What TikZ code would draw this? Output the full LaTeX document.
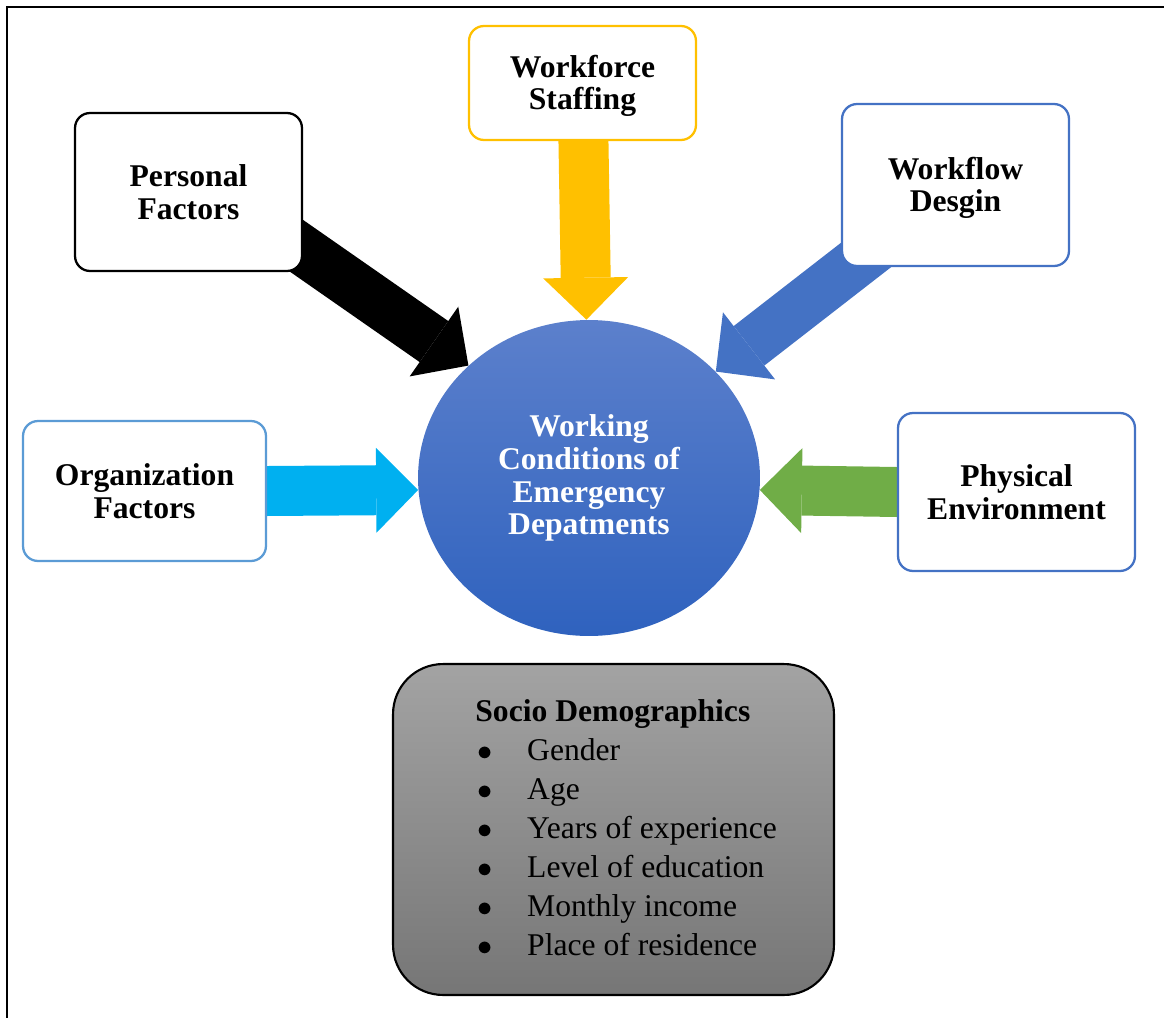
\documentclass[tikz,border=0pt]{standalone}
\usepackage{fontspec}
\setmainfont{Liberation Serif}
\usetikzlibrary{shapes.geometric,arrows.meta,backgrounds}

\definecolor{gold}{HTML}{FFC000}
\definecolor{steel}{HTML}{4472C4}
\definecolor{sky}{HTML}{5B9BD5}
\definecolor{aqua}{HTML}{00B0F0}
\definecolor{leaf}{HTML}{70AD47}
\definecolor{ballTop}{HTML}{5C80CC}
\definecolor{ballBottom}{HTML}{2F62BE}
\definecolor{slateTop}{HTML}{A3A3A3}
\definecolor{slateBottom}{HTML}{767676}

\newcommand{\sdbullet}{\makebox[29.5pt][l]{\hspace{1pt}$\bullet$}}

\begin{document}
\begin{tikzpicture}[x=0.02cm, y=-0.02cm,
    factor/.style={draw, line width=1.3pt, fill=white, rounded corners=0.3cm,
        align=center, inner sep=0pt, font=\fontsize{18}{18.7}\selectfont\bfseries},
    push/.style={line width=1cm, shorten <=-0.9cm,
        -{Triangle[length=0.84cm, width=1.7cm, line width=0pt]}}]
        \useasboundingbox (0,0) rectangle (1164,1018);

        % frame
        \draw[line width=1.2pt] (7,1018) -- (7,7) -- (1164,7);

        % Centre
        \node[ellipse, minimum width=6.84cm, minimum height=6.32cm, inner sep=0pt,
            top color=ballTop, bottom color=ballBottom, text=white, align=center,
            font=\fontsize{18}{18.7}\selectfont\bfseries] (wc) at (589,478)
            {Working\\Conditions of\\Emergency\\Depatments\rule[-1pt]{0pt}{1pt}};

        % Factors
        \node[factor, minimum width=4.54cm, minimum height=3.16cm] (pers) at (188.5,192) {Personal\\Factors};
        \node[factor, draw=gold, minimum width=4.54cm, minimum height=2.28cm] (ws) at (582.5,83) {\rule{0pt}{16pt}Workforce\\Staffing};
        \node[factor, draw=steel, minimum width=4.54cm, minimum height=3.24cm] (wf) at (955.5,185) {\rule{0pt}{16pt}Workflow\\Desgin};
        \node[factor, draw=sky, minimum width=4.86cm, minimum height=2.8cm] (org) at (144.5,491) {Organization\\Factors};
        \node[factor, draw=steel, minimum width=4.74cm, minimum height=3.16cm] (pe) at (1016.5,492) {Physical\\Environment};

        % Socio demographics
        \node[draw, line width=1.2pt, rounded corners=1cm, top color=slateTop, bottom color=slateBottom,
            minimum width=8.82cm, minimum height=6.62cm] (sd) at (613.5,829.5) {};
        \node[anchor=west, inner sep=0pt, font=\fontsize{18}{22.2}\selectfont] (sdlist) at (475,831)
            {\begin{tabular}{@{}l@{}}
                \bfseries Socio Demographics\\
                \sdbullet Gender\\
                \sdbullet Age\\
                \sdbullet Years of experience\\
                \sdbullet Level of education\\
                \sdbullet Monthly income\\
                \sdbullet Place of residence
            \end{tabular}};

        % Arrows
        \begin{pgfonlayer}{background}
            \draw[push, black] (pers.-27) -- (wc.137);
            \draw[push, gold] (ws) -- (wc);
            \draw[push, steel] (wf.218) -- (wc.40);
            \draw[push, aqua] (org.east) -- (wc.184);
            \draw[push, leaf] (pe.west) -- (wc.-4);
        \end{pgfonlayer}
    \end{tikzpicture}
\end{document}
